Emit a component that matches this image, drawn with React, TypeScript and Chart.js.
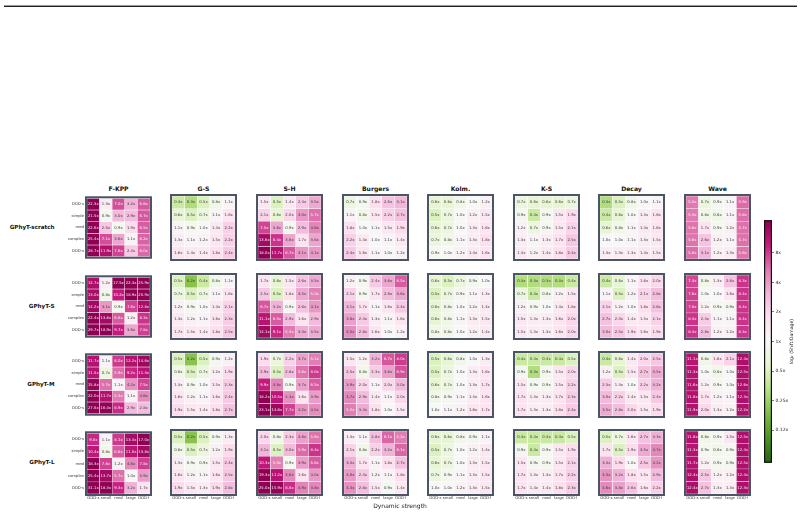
import React, { useEffect, useRef } from "react";
import { Chart, registerables } from "chart.js";
Chart.register(...registerables);

const systems = ["F-KPP", "G-S", "S-H", "Burgers", "Kolm.", "K-S", "Decay", "Wave"];
const models = ["GPhyT-scratch", "GPhyT-S", "GPhyT-M", "GPhyT-L"];
const xLabels = ["OOD-s", "small", "med", "large", "OOD-l"];
const yLabels = ["OOD-s", "simple", "med", "complex", "OOD-s"];
const cbarTicks = [-3, -2, -1, 0, 1, 2, 3];
const cbarLabels = ["0.12x", "0.25x", "0.5x", "1x", "2x", "4x", "8x"];
const LIM = 4.1;

// each model: 8 systems, each 5 rows (complexity) x 5 cols (dynamic strength)
const scratchData = [
  [[22.3, 1.3, 7.0, 3.2, 6.6], [21.5, 0.9, 3.0, 2.9, 6.7], [22.6, 2.5, 0.9, 1.9, 6.5], [25.4, 7.1, 3.6, 1.1, 6.2], [28.7, 11.9, 7.6, 2.4, 6.0]],
  [[0.4, 0.3, 0.5, 0.8, 1.1], [0.6, 0.5, 0.7, 1.1, 1.6], [1.1, 0.9, 1.0, 1.4, 2.2], [1.3, 1.1, 1.2, 1.5, 2.2], [1.6, 1.4, 1.4, 1.8, 2.4]],
  [[1.5, 0.5, 1.4, 2.4, 3.5], [2.1, 0.6, 2.0, 4.0, 5.7], [7.5, 3.6, 0.9, 2.9, 4.8], [13.6, 8.4, 3.6, 1.7, 3.6], [18.0, 11.7, 6.7, 4.1, 4.1]],
  [[0.7, 0.9, 1.8, 2.6, 3.1], [1.1, 0.8, 1.5, 2.2, 2.7], [1.8, 1.0, 1.1, 1.5, 1.9], [2.2, 1.4, 1.0, 1.1, 1.4], [2.4, 1.6, 1.1, 1.0, 1.2]],
  [[0.6, 0.6, 0.8, 1.0, 1.2], [0.5, 0.7, 1.0, 1.2, 1.5], [0.6, 0.7, 1.0, 1.3, 1.6], [0.7, 0.8, 1.1, 1.3, 1.8], [0.9, 1.0, 1.2, 1.4, 1.6]],
  [[0.7, 0.6, 0.6, 0.6, 0.7], [0.9, 0.4, 0.9, 1.5, 1.9], [1.2, 0.7, 0.9, 1.5, 2.1], [1.3, 1.1, 1.3, 1.7, 2.5], [1.4, 1.2, 1.4, 1.8, 2.4]],
  [[0.3, 0.5, 0.8, 1.0, 1.1], [0.4, 0.6, 1.0, 1.3, 1.6], [0.6, 0.8, 1.1, 1.4, 1.6], [1.0, 1.0, 1.1, 1.3, 1.5], [1.3, 1.3, 1.3, 1.4, 1.5]],
  [[5.3, 0.7, 0.9, 1.1, 5.9], [5.3, 0.8, 0.8, 1.1, 5.8], [5.6, 1.7, 0.9, 1.2, 5.7], [5.6, 2.6, 1.2, 1.1, 5.7], [5.8, 3.1, 1.2, 1.3, 5.6]],
];

const smallData = [
  [[12.7, 1.2, 17.5, 22.4, 25.9], [13.0, 0.8, 10.2, 18.9, 20.9], [14.2, 4.1, 0.9, 7.6, 12.8], [22.4, 13.8, 6.6, 1.2, 8.3], [29.7, 18.9, 9.7, 3.6, 7.8]],
  [[0.5, 0.2, 0.4, 0.8, 1.1], [0.7, 0.5, 0.7, 1.1, 1.6], [1.2, 0.9, 1.0, 1.4, 2.1], [1.4, 1.2, 1.1, 1.6, 2.3], [1.7, 1.5, 1.4, 1.8, 2.5]],
  [[1.7, 0.6, 1.5, 2.6, 3.5], [2.5, 0.5, 1.8, 3.5, 5.0], [6.7, 3.2, 0.9, 2.6, 4.1], [11.1, 6.5, 2.9, 1.6, 2.9], [14.1, 9.1, 5.3, 3.4, 3.5]],
  [[1.2, 0.9, 2.4, 3.6, 6.5], [2.1, 0.9, 1.7, 2.8, 3.6], [3.1, 1.7, 1.1, 1.6, 2.4], [3.8, 2.4, 1.3, 1.1, 1.6], [4.5, 2.8, 1.6, 1.0, 1.2]],
  [[0.6, 0.5, 0.7, 0.9, 1.0], [0.5, 0.7, 0.9, 1.1, 1.3], [0.6, 0.8, 1.0, 1.2, 1.4], [0.6, 0.8, 1.1, 1.3, 1.5], [0.8, 0.8, 1.0, 1.2, 1.4]],
  [[0.3, 0.3, 0.3, 0.3, 0.4], [0.7, 0.4, 0.8, 1.2, 1.5], [1.2, 0.9, 1.0, 1.4, 1.8], [1.5, 1.3, 1.3, 1.6, 2.0], [1.5, 1.3, 1.3, 1.6, 2.0]],
  [[0.4, 0.6, 1.1, 1.6, 2.0], [1.1, 0.5, 1.2, 2.1, 2.8], [2.1, 1.2, 1.0, 1.8, 2.6], [2.7, 2.0, 1.4, 1.5, 2.1], [3.0, 2.5, 1.9, 1.6, 1.9]],
  [[7.4, 0.8, 1.3, 2.6, 8.3], [7.6, 1.0, 1.0, 1.6, 8.4], [7.8, 1.2, 0.9, 0.9, 8.4], [8.4, 2.3, 1.1, 1.1, 8.4], [8.4, 2.8, 1.2, 1.2, 8.3]],
];

const mediumData = [
  [[11.7, 1.1, 8.0, 12.2, 14.6], [11.5, 0.7, 5.9, 9.2, 11.3], [15.8, 5.7, 1.1, 4.2, 7.5], [22.0, 11.7, 5.3, 1.1, 4.6], [27.6, 16.4, 8.9, 2.9, 2.8]],
  [[0.5, 0.2, 0.5, 0.9, 1.2], [0.8, 0.5, 0.7, 1.2, 1.9], [1.3, 0.9, 1.0, 1.5, 2.3], [1.6, 1.2, 1.1, 1.6, 2.4], [1.9, 1.5, 1.4, 1.8, 2.7]],
  [[1.9, 0.7, 2.2, 3.7, 5.1], [2.9, 0.5, 2.8, 5.6, 8.0], [9.9, 4.8, 0.9, 3.7, 6.5], [18.2, 10.5, 4.3, 1.6, 3.9], [23.1, 14.6, 7.7, 4.2, 4.5]],
  [[1.5, 1.2, 3.2, 6.7, 8.0], [2.5, 0.8, 2.3, 3.8, 6.9], [3.9, 2.0, 1.1, 2.0, 3.0], [4.7, 2.9, 1.4, 1.1, 2.0], [5.2, 3.4, 1.8, 1.0, 1.5]],
  [[0.5, 0.6, 0.8, 1.0, 1.3], [0.5, 0.7, 1.0, 1.3, 1.6], [0.6, 0.7, 1.0, 1.3, 1.7], [0.8, 0.9, 1.1, 1.3, 1.6], [1.0, 1.1, 1.2, 1.6, 1.7]],
  [[0.4, 0.4, 0.4, 0.4, 0.5], [0.9, 0.3, 0.9, 1.5, 2.0], [1.5, 0.9, 0.9, 1.5, 2.2], [1.7, 1.3, 1.3, 1.7, 2.3], [1.7, 1.3, 1.3, 1.8, 2.4]],
  [[0.4, 0.6, 1.4, 2.0, 2.5], [1.2, 0.5, 1.5, 2.7, 3.5], [2.3, 1.3, 1.0, 2.2, 3.2], [3.0, 2.2, 1.4, 1.5, 2.4], [3.5, 2.8, 2.0, 1.5, 1.9]],
  [[11.1, 0.8, 1.6, 2.1, 12.4], [11.3, 1.0, 0.8, 1.0, 12.5], [11.6, 1.2, 0.9, 1.0, 12.6], [11.8, 1.7, 1.2, 1.1, 12.3], [11.9, 2.0, 1.3, 1.2, 12.2]],
];

const largeData = [
  [[9.0, 1.1, 8.1, 13.4, 17.0], [10.4, 0.8, 6.6, 11.0, 13.8], [18.3, 7.6, 1.2, 4.6, 7.8], [25.4, 13.7, 5.7, 1.0, 3.9], [31.1, 18.3, 9.3, 3.2, 1.7]],
  [[0.5, 0.2, 0.5, 0.9, 1.3], [0.8, 0.5, 0.7, 1.2, 1.9], [1.3, 0.9, 0.9, 1.5, 2.4], [1.6, 1.2, 1.1, 1.6, 2.5], [1.9, 1.5, 1.3, 1.9, 2.8]],
  [[2.0, 0.8, 2.3, 3.8, 5.6], [3.1, 0.5, 3.0, 5.9, 8.4], [10.3, 5.0, 0.9, 3.9, 6.6], [19.3, 11.2, 4.6, 1.6, 4.0], [25.0, 15.9, 8.8, 4.9, 4.8]],
  [[1.3, 1.1, 2.8, 6.1, 5.2], [2.1, 0.8, 2.2, 3.2, 6.1], [3.3, 1.7, 1.1, 1.8, 2.7], [4.0, 2.4, 1.2, 1.1, 1.8], [4.4, 2.8, 1.5, 0.9, 1.4]],
  [[0.6, 0.6, 0.8, 0.9, 1.1], [0.5, 0.7, 1.0, 1.2, 1.4], [0.6, 0.7, 1.0, 1.3, 1.5], [0.7, 0.9, 1.1, 1.3, 1.5], [1.0, 1.0, 1.2, 1.3, 1.5]],
  [[0.4, 0.4, 0.4, 0.4, 0.5], [0.9, 0.4, 0.9, 1.5, 1.9], [1.5, 0.9, 0.9, 1.5, 2.1], [1.7, 1.3, 1.3, 1.7, 2.2], [1.7, 1.4, 1.4, 1.8, 2.3]],
  [[0.5, 0.7, 1.6, 2.7, 3.3], [1.7, 0.5, 1.9, 3.5, 4.7], [3.3, 1.9, 1.0, 2.5, 4.2], [4.3, 3.2, 1.8, 1.5, 2.9], [4.6, 3.8, 2.6, 1.6, 2.2]],
  [[11.8, 0.8, 0.9, 1.5, 12.5], [11.3, 0.9, 0.8, 0.9, 12.4], [11.7, 1.2, 0.9, 0.9, 12.5], [12.4, 2.5, 1.2, 1.2, 12.4], [12.4, 2.7, 1.3, 1.3, 12.3]],
];

const allData = [scratchData, smallData, mediumData, largeData];

const FONT = "'DejaVu Sans', Verdana, sans-serif";
const PIYG_R = ["#276419", "#4d9221", "#7fbc41", "#b8e186", "#e6f5d0", "#f7f7f7", "#fde0ef", "#f1b6da", "#de77ae", "#c51b7d", "#8e0152"];

function hex(h: string) {
  return [parseInt(h.slice(1, 3), 16), parseInt(h.slice(3, 5), 16), parseInt(h.slice(5, 7), 16)];
}
const STOPS = PIYG_R.map(hex);

function cmap(t: number) {
  const tt = Math.max(0, Math.min(1, t));
  const p = tt * (STOPS.length - 1);
  const i = Math.min(STOPS.length - 2, Math.floor(p));
  const f = p - i;
  const a = STOPS[i], b = STOPS[i + 1];
  const c = a.map((v, k) => Math.round(v + (b[k] - v) * f));
  return `rgb(${c[0]},${c[1]},${c[2]})`;
}
function colorFor(v: number) {
  return cmap((Math.log2(v) + LIM) / (2 * LIM));
}
function textColor(v: number) {
  return v >= 5 ? "rgba(255,255,255,0.92)" : "#3a3a3a";
}

const X0 = 84.8, DX = 85.6, Y0 = 194.3, DY = 78.35, INNER = 63;

function Panel({ r, c }: { r: number; c: number }) {
  const ref = useRef<HTMLCanvasElement>(null);
  const x0 = Math.round(X0 + c * DX);
  const y0 = Math.round(Y0 + r * DY);
  const L = x0 + 2, T = y0 + 2;
  const Wy = c === 0 ? 40 : 3;
  const Hx = r === 3 ? 10 : 3;
  const pt = 3, pr = 3;
  const w = Wy + INNER + pr;
  const h = pt + INNER + Hx;

  useEffect(() => {
    const m = allData[r][c];
    const datasets = m.map((row, i) => ({
      label: yLabels[i],
      data: row.map(() => 1),
      values: row,
      backgroundColor: row.map(colorFor),
      borderColor: "#ffffff",
      borderWidth: 0.5,
      borderSkipped: false,
      barPercentage: 1,
      categoryPercentage: 1,
      yAxisID: "y",
      stack: "s",
    }));
    const chart = new Chart(ref.current!, {
      type: "bar",
      data: { labels: xLabels, datasets: datasets as any },
      options: {
        animation: false,
        responsive: false,
        devicePixelRatio: 1,
        layout: { padding: { top: pt, right: pr, left: 0, bottom: 0 } },
        plugins: { legend: { display: false }, tooltip: { enabled: false }, title: { display: false } },
        scales: {
          x: {
            type: "category",
            stacked: true,
            offset: true,
            grid: { display: false, drawTicks: false },
            border: { display: false },
            ticks: {
              display: r === 3,
              autoSkip: false,
              maxRotation: 0,
              padding: 2,
              color: "#333",
              font: { size: 3.8, family: FONT },
            },
            afterFit: (s: any) => { s.height = Hx; },
          },
          y: {
            type: "linear",
            stacked: true,
            min: 0,
            max: 5,
            reverse: true,
            display: false,
          },
          yCat: {
            type: "category",
            labels: yLabels,
            position: "left",
            offset: true,
            grid: { display: false, drawTicks: false },
            border: { display: false },
            ticks: {
              display: c === 0,
              autoSkip: false,
              padding: 3,
              color: "#333",
              font: { size: 3.8, family: FONT },
            },
            afterFit: (s: any) => { s.width = Wy; },
          },
        } as any,
      },
      plugins: [
        {
          id: "cellText",
          afterDatasetsDraw(ch: any) {
            const ctx = ch.ctx;
            ctx.save();
            ctx.font = `3.8px ${FONT}`;
            ctx.textAlign = "center";
            ctx.textBaseline = "middle";
            ch.data.datasets.forEach((ds: any, i: number) => {
              const meta = ch.getDatasetMeta(i);
              meta.data.forEach((el: any, j: number) => {
                const v = ds.values[j];
                const p = el.getProps(["x", "y", "base"], true);
                ctx.fillStyle = textColor(v);
                ctx.fillText(v.toFixed(1) + "x", p.x, (p.y + p.base) / 2 + 0.2);
              });
            });
            const ca = ch.chartArea;
            ctx.strokeStyle = "#4b5566";
            ctx.lineWidth = 2;
            ctx.strokeRect(ca.left - 1, ca.top - 1, ca.right - ca.left + 2, ca.bottom - ca.top + 2);
            ctx.restore();
          },
        },
      ],
    });
    return () => chart.destroy();
  }, [r, c]);

  return (
    <canvas
      ref={ref}
      width={w}
      height={h}
      style={{ position: "absolute", left: L - Wy, top: T - pt, width: w, height: h }}
    />
  );
}

function ColorBar() {
  const ref = useRef<HTMLCanvasElement>(null);
  const left = 764, top = 216, w = 40, h = 251, barW = 8;
  useEffect(() => {
    const chart = new Chart(ref.current!, {
      type: "bar",
      data: {
        labels: [""],
        datasets: [
          {
            data: [[-LIM, LIM]] as any,
            backgroundColor: (ctx: any) => {
              const ca = ctx.chart.chartArea;
              if (!ca) return "#f7f7f7";
              const g = ctx.chart.ctx.createLinearGradient(0, ca.bottom, 0, ca.top);
              for (let k = 0; k <= 50; k++) g.addColorStop(k / 50, cmap(k / 50));
              return g;
            },
            borderWidth: 0,
            barPercentage: 1,
            categoryPercentage: 1,
          },
        ],
      },
      options: {
        animation: false,
        responsive: false,
        devicePixelRatio: 1,
        layout: { padding: { top: 4, bottom: 4, left: 0, right: 0 } },
        plugins: { legend: { display: false }, tooltip: { enabled: false } },
        scales: {
          x: { display: false, offset: true },
          y: {
            position: "right",
            min: -LIM,
            max: LIM,
            afterBuildTicks: (s: any) => { s.ticks = cbarTicks.map((v) => ({ value: v })); },
            afterFit: (s: any) => { s.width = w - barW; },
            ticks: {
              callback: (_v: any, i: number) => cbarLabels[i],
              font: { size: 4.5, family: FONT },
              color: "#222",
              padding: 1.5,
            },
            grid: { display: true, drawOnChartArea: false, drawTicks: true, tickLength: 2, color: "#222", lineWidth: 0.6 },
            border: { display: false },
          },
        } as any,
      },
      plugins: [
        {
          id: "cbarDeco",
          afterDraw(ch: any) {
            const ctx = ch.ctx;
            const ca = ch.chartArea;
            ctx.save();
            ctx.strokeStyle = "#111";
            ctx.lineWidth = 1.2;
            ctx.strokeRect(ca.left + 0.6, ca.top + 0.6, ca.right - ca.left - 1.2, ca.bottom - ca.top - 1.2);
            ctx.translate(27.7, (ca.top + ca.bottom) / 2);
            ctx.rotate(-Math.PI / 2);
            ctx.fillStyle = "#222";
            ctx.font = `4.6px ${FONT}`;
            ctx.textAlign = "center";
            ctx.textBaseline = "middle";
            ctx.fillText("log\u2082 (Shift/Damage)", 0, 0);
            ctx.restore();
          },
        },
      ],
    });
    return () => chart.destroy();
  }, []);
  return <canvas ref={ref} width={w} height={h} style={{ position: "absolute", left, top, width: w, height: h }} />;
}

export default function App() {
  const panels: React.ReactNode[] = [];
  for (let r = 0; r < 4; r++) for (let c = 0; c < 8; c++) panels.push(<Panel key={`${r}-${c}`} r={r} c={c} />);
  return (
    <div
      style={{
        position: "absolute",
        left: 0,
        top: 0,
        width: 804,
        height: 516,
        background: "#fff",
        overflow: "hidden",
        fontFamily: FONT,
        color: "#111",
      }}
    >
      <div style={{ position: "absolute", left: 4, top: 5, width: 793, height: 0, borderTop: "1px solid #9a9a9a", borderBottom: "1.5px solid #222" }} />
      {systems.map((s, c) => (
        <div
          key={s}
          style={{
            position: "absolute",
            left: Math.round(X0 + c * DX),
            top: 185.4,
            width: 67,
            textAlign: "center",
            fontSize: 6.1,
            lineHeight: "7px",
            fontWeight: "bold",
            whiteSpace: "nowrap",
          }}
        >
          {s}
        </div>
      ))}
      {models.map((m, r) => (
        <div
          key={m}
          style={{
            position: "absolute",
            left: 0,
            width: 54.5,
            top: Math.round(Y0 + r * DY) + 33.5 - 3.3,
            textAlign: "right",
            fontSize: 5.6,
            lineHeight: "6.6px",
            fontWeight: "bold",
            whiteSpace: "nowrap",
          }}
        >
          {m}
        </div>
      ))}
      {panels}
      <ColorBar />
      <div
        style={{
          position: "absolute",
          left: 340,
          width: 120,
          top: 502.2,
          textAlign: "center",
          fontSize: 6,
          lineHeight: "7px",
          whiteSpace: "nowrap",
          color: "#222",
        }}
      >
        Dynamic strength
      </div>
    </div>
  );
}
